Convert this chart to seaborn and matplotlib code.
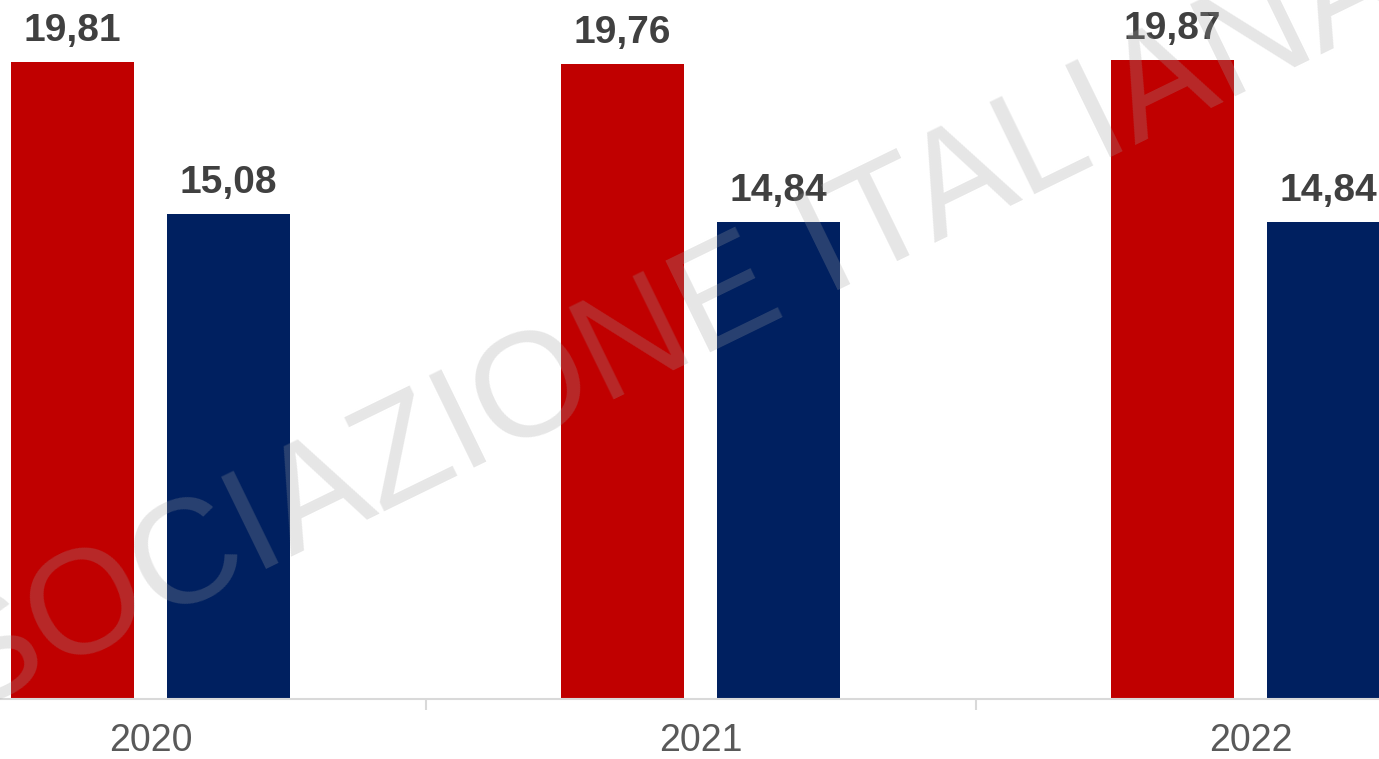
import matplotlib
matplotlib.use("Agg")
import matplotlib.pyplot as plt
import seaborn as sns
import pandas as pd

years = ["2020", "2021", "2022"]
series_names = ["Serie 1", "Serie 2"]
values_1 = [19.81, 19.76, 19.87]
values_2 = [15.08, 14.84, 14.84]
colors = ["#C00000", "#002060"]
watermark = "SOCIAZIONE ITALIANA"

df = pd.DataFrame({
    "anno": years * 2,
    "serie": [series_names[0]] * 3 + [series_names[1]] * 3,
    "valore": values_1 + values_2,
})

sns.set_theme(style="white")
plt.rcParams["font.family"] = ["Liberation Sans", "DejaVu Sans"]

fig = plt.figure(figsize=(13.79, 7.59), dpi=100)
ax = fig.add_axes([0, 60 / 759, 1, 699 / 759])

sns.barplot(data=df, x="anno", y="valore", hue="serie", order=years,
            hue_order=series_names, palette=colors, width=0.567, gap=0.21,
            saturation=1, legend=False, ax=ax, edgecolor="none")

ax.set_xlim(-150.5 / 550, (1379 - 150.5) / 550)
ax.set_ylim(0, 21.74)

for cont in ax.containers:
    labels = [f"{v:.2f}".replace(".", ",") for v in cont.datavalues]
    ax.bar_label(cont, labels=labels, padding=9.3, fontsize=28,
                 fontweight="bold", color="#404040")

for s in ["top", "left", "right"]:
    ax.spines[s].set_visible(False)
ax.spines["bottom"].set_color("#d9d9d9")
ax.spines["bottom"].set_linewidth(1.5)
ax.set_yticks([])
ax.set_xlabel("")
ax.set_ylabel("")
ax.tick_params(axis="x", which="major", length=0, pad=17.5, labelsize=27,
               labelcolor="#595959")
ax.set_xticks([0.5, 1.5], minor=True)
ax.tick_params(axis="x", which="minor", length=8, width=1.5, color="#d9d9d9",
               bottom=True)

fig.text(-0.026, 0.056, watermark, fontsize=107, color="#a0a0a0", alpha=0.26,
         rotation=26, rotation_mode="anchor", ha="left", va="baseline",
         zorder=10)

fig.savefig("out.png", dpi=100)
